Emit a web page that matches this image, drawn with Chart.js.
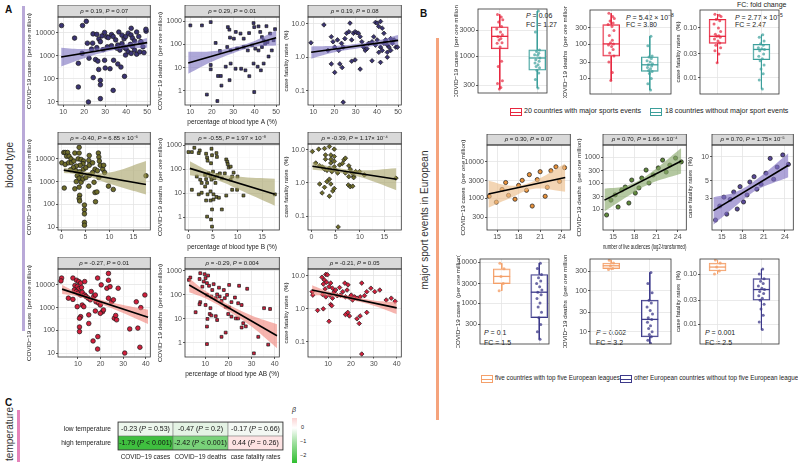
<!DOCTYPE html>
<html>
<head>
<meta charset="utf-8">
<script src="https://cdn.jsdelivr.net/npm/chart.js@4.4.0/dist/chart.umd.min.js"></script>
<style>
body{margin:0;background:#fff;width:798px;height:465px;position:relative;overflow:hidden;font-family:"Liberation Sans",Arial,sans-serif;}
canvas{position:absolute;}
.lbl{position:absolute;font-weight:bold;font-size:10px;color:#111;}
.vbar{position:absolute;width:3px;}
.rot{position:absolute;transform:translate(-50%,-50%) rotate(-90deg);white-space:nowrap;font-size:10px;color:#333;}
.txt{position:absolute;font-size:7px;color:#222;white-space:nowrap;}
.key{position:absolute;width:12px;height:8px;border:1px solid;box-sizing:border-box;}
.key:after{content:"";position:absolute;left:0;right:0;top:3px;border-top:1px solid;border-color:inherit;}
</style>
</head>
<body>
<div class="lbl" style="left:5px;top:4px">A</div>
<div class="lbl" style="left:420px;top:8px">B</div>
<div class="lbl" style="left:5px;top:397px">C</div>
<div class="vbar" style="left:22px;top:6px;height:325px;background:#b9a9d8"></div>
<div class="vbar" style="left:436px;top:38px;height:382px;background:#f5a37c"></div>
<div class="vbar" style="left:17px;top:410px;height:52px;background:#e584bb"></div>
<div class="rot" style="left:9px;top:165px">blood type</div>
<div class="rot" style="left:424px;top:220px">major sport events in European</div>
<div class="rot" style="left:9px;top:434px">temperature</div>

<div class="txt" style="left:526px;top:12px"><i>P</i> = 0.06</div>
<div class="txt" style="left:526px;top:21px">FC = 1.27</div>
<div class="txt" style="left:626px;top:12px"><i>P</i> = 5.42 × 10<sup style="font-size:5px">−8</sup></div>
<div class="txt" style="left:626px;top:21px">FC = 3.80</div>
<div class="txt" style="left:737px;top:1px">FC: fold change</div>
<div class="txt" style="left:735px;top:12px"><i>P</i> = 2.77 × 10<sup style="font-size:5px">−5</sup></div>
<div class="txt" style="left:735px;top:21px">FC = 2.47</div>

<div class="key" style="left:510px;top:108px;border-color:#e7263e"></div>
<div class="txt" style="left:524px;top:107px;font-size:7.1px">20 countries with major sports events</div>
<div class="key" style="left:650px;top:108px;border-color:#3c9f9b"></div>
<div class="txt" style="left:665px;top:107px;font-size:7.1px">18 countries without major sport events</div>

<div class="txt" style="left:484px;top:329px"><i>P</i> = 0.1</div>
<div class="txt" style="left:484px;top:339px">FC = 1.5</div>
<div class="txt" style="left:596px;top:329px"><i>P</i> = 0.002</div>
<div class="txt" style="left:596px;top:339px">FC = 3.2</div>
<div class="txt" style="left:705px;top:329px"><i>P</i> = 0.001</div>
<div class="txt" style="left:705px;top:339px">FC = 2.5</div>

<div class="key" style="left:481px;top:375px;border-color:#f4a06a"></div>
<div class="txt" style="left:495px;top:374px;font-size:6.3px">five countries with top five European leagues</div>
<div class="key" style="left:620px;top:375px;border-color:#3d3a8a"></div>
<div class="txt" style="left:634px;top:374px;font-size:6.3px">other European countries without top five European leagues</div>

<div class="txt" style="left:292px;top:406px;font-style:italic;font-size:7px">β</div>
<div style="position:absolute;left:292px;top:418px;width:5px;height:45px;background:linear-gradient(#fbd3d3 0%,#ffffff 22%,#9fdf9f 55%,#2fbf2f 100%)"></div>
<div class="txt" style="left:301px;top:424px;font-size:5.5px">0</div>
<div class="txt" style="left:300px;top:438px;font-size:5.5px">−1</div>
<div class="txt" style="left:300px;top:452px;font-size:5.5px">−2</div>

<script>
// ---------- data: blood type panels [x, y] ----------
const aCases = [[9.2,21000],[19.2,21000],[21,32000],[15.4,6000],[21.5,3600],[24,3600],[24.2,9100],[26,8700],[27,5500],[28.5,7500],[27.7,4200],[29.7,10500],[30.7,6800],[31.5,6300],[33,8500],[33.8,7000],[35,5000],[36.5,11000],[38,8000],[39,5600],[39.8,7000],[41,9800],[42.3,8200],[43,6000],[44,4500],[45,11000],[46,7000],[47,4000],[48,2500],[49.5,12000],[36,3000],[38,3500],[39,2400],[40,2000],[41,1500],[42,3200],[43,2600],[44,1800],[45,1200],[46.5,1500],[37,1800],[35.5,2200],[33,2800],[31,2500],[29,1900],[26,2300],[23.5,2000],[17.2,480],[19,1300],[22.3,800],[25.4,700],[26.5,600],[26.9,260],[27.7,87],[27.7,56],[29.7,650],[30,300],[32.3,280],[34,650],[36,450],[37.5,330],[33.8,32],[39.2,130],[24.3,115],[17.2,45],[22,10],[27.7,14],[39.7,1100],[42.4,1300],[48.5,1400],[42.4,16000],[49.4,14500],[47,4200]];
const aDeaths = [[10,650],[15.4,650],[19.5,900],[27.5,550],[28.2,425],[28.5,195],[30.3,175],[31.2,340],[33.4,290],[34.9,175],[37.4,305],[39.5,820],[39.8,550],[41.8,590],[42.6,340],[43.4,205],[44.2,148],[21.8,115],[23.8,52],[27.2,77],[28.8,55],[31.8,65],[34.9,77],[36.8,55],[38.8,91],[40.3,65],[41.8,55],[43.4,77],[44.9,107],[46,126],[19.5,13],[19.5,8.5],[22.9,4.4],[24.2,4.4],[24.5,1.7],[28.3,2.9],[26.5,11],[28.8,15],[31.1,9],[33.7,9],[35.7,7.7],[37.5,4.3],[39.5,15],[41.4,11],[42.9,7.7],[44.2,15],[39.8,0.9],[17.7,0.7],[22.6,0.37],[47.2,290],[48,55],[48.8,150],[49.5,450],[46.5,30],[45.5,600]];
const aCfr = [[8.9,2.7],[15,9.3],[16.9,1.6],[18.5,4.1],[19.3,2.9],[20.1,2.0],[21.4,3.3],[22,1.6],[23.3,2.6],[24.1,2.0],[24.9,3.6],[25.7,5.2],[26.8,5.8],[27.3,10.5],[28.1,3.3],[28.9,5.2],[29.7,5.8],[30.5,5.4],[31.3,5.2],[32.1,4.1],[32.9,2.9],[33.7,2.0],[34.5,1.6],[35.3,1.8],[36.1,2.6],[37.7,2.9],[38.5,4.1],[39.3,11],[40.1,10.5],[40.9,8.3],[41.7,11.8],[42.5,7.4],[43.3,5.2],[44.1,3.3],[44.9,2.3],[45.7,2.0],[46.5,1.6],[47.3,2.6],[48.1,3.3],[48.9,2.0],[49.7,2.0],[39.3,2.3],[40.9,1.4],[42.5,1.6],[18.5,0.63],[20.1,0.35],[22.5,0.63],[23.6,0.49],[28.1,0.76],[29.7,0.83],[32.1,0.44],[37.7,0.78],[41.7,0.7],[44.9,1.0],[24.1,0.045],[40.1,3.3],[41.7,2.0],[43.3,2.6],[44.9,1.4],[46.5,3.6]];

const bCases = [[0.5,19000],[0.8,19000],[1.3,19000],[1.1,13000],[1.6,13000],[2,10000],[0.1,6700],[0.8,5700],[1.5,6700],[2.1,6700],[2.6,8000],[2.8,18000],[3.7,32000],[3.7,18000],[3.5,10000],[4.1,9400],[4.6,8000],[4.5,6100],[3.9,5200],[3.1,4800],[2.5,4100],[1.9,3300],[3,3000],[3.8,2700],[4.6,3500],[5.1,4100],[5.8,14000],[5.7,8500],[5.8,5200],[6.5,6700],[7,3500],[7.7,18000],[7.8,12000],[7.9,8000],[8.1,5200],[8.6,3500],[9,2500],[8.8,5200],[7.5,3000],[6.5,2500],[4.1,2100],[3.3,1800],[3.7,1400],[3.1,1000],[4.1,930],[4.5,1300],[5.1,1500],[5.9,1900],[6.8,930],[7.8,1500],[0.6,520],[2.8,480],[3.7,570],[3.8,250],[3.7,180],[3.8,140],[5.7,630],[7,330],[7.1,130],[7.4,350],[9.8,630],[10.8,450],[4.8,93],[4.8,58],[4.8,38],[4.8,16],[4.8,12],[17.6,1800]];
const bDeaths = [[0,530],[0.7,530],[1.2,800],[2.1,480],[2.3,620],[3.6,450],[3.8,310],[3.9,230],[4.7,730],[4.8,390],[4.6,180],[5.7,480],[5.8,330],[7.7,260],[7.9,210],[8,165],[8.2,120],[8.6,130],[9.2,73],[1.7,50],[2.4,37],[2.7,27],[3.4,58],[3.6,39],[3.8,27],[4.1,68],[4.5,50],[4.7,37],[5,80],[5.3,42],[5.5,27],[5.9,58],[6.4,68],[6.8,42],[7.4,68],[8.6,37],[8.9,50],[10,50],[0.7,14],[2.1,9],[2.7,10.5],[3.4,19],[3.9,9],[4.5,12],[5.1,9],[3.6,5],[4.5,5],[5.1,5.5],[5.7,7],[6.2,6.5],[7.7,8],[8.9,14],[9.9,14],[11.2,8],[4.8,2.1],[6.8,2.1],[3.8,1.05],[4.8,0.4],[4.6,0.8],[17.6,9]];
const bCfr = [[0.2,8.9],[1.5,10.5],[2.7,11],[3.7,12.6],[4.7,10.5],[2.9,7],[2.9,5.2],[4,7],[4,5.2],[4,4],[4.7,6.3],[4.7,4.5],[4.7,3.1],[0.9,4],[1.7,3.3],[2.3,3],[2.7,2.6],[3.2,2.4],[3.7,2.8],[4.2,2.2],[4.9,2.5],[5.4,2],[5.8,3.5],[6.4,3.9],[6.7,5],[7,5.6],[7.7,3.3],[8,2.6],[8.4,2],[8.7,1.6],[9.1,2.2],[7,2],[7.7,1.55],[9.9,2.2],[10.9,1.75],[1.7,0.93],[2.2,0.5],[2.7,0.74],[3.2,1.1],[3.7,1.3],[4,0.93],[4.4,0.57],[4.7,0.68],[3.7,0.4],[7.6,0.87],[8,0.77],[8.5,0.8],[8.7,1.45],[5.5,0.047],[17.4,1.4]];

const abCases = [[2.8,20000],[2.5,15000],[7.8,20000],[9.4,16000],[10.4,14000],[11.2,12000],[8.7,9400],[9.7,8500],[10.4,6700],[11.6,7600],[8.4,6000],[9.3,5100],[10.1,4300],[11.2,3600],[11.9,4700],[13,3600],[13.6,3100],[14.5,2600],[15.5,2200],[15.9,5100],[13,14000],[17,3100],[17.7,3600],[18,1800],[18.7,20000],[19.1,1600],[20.3,10000],[19.9,1300],[20.9,660],[22.8,7100],[23.5,16000],[23.5,32000],[24.2,8400],[23.5,2600],[24.9,1800],[25.7,2200],[27.8,7100],[26.1,340],[26.7,450],[27.1,290],[19.9,560],[21.3,790],[17.7,710],[5.8,2600],[7.8,2300],[9.7,1100],[11.9,1300],[12.6,1100],[11.2,400],[10.7,340],[14.8,480],[14.8,200],[10.7,140],[10.7,88],[16.7,34],[18.7,15],[18.8,53],[32.9,115],[30.7,10],[35.8,1800],[37.8,1000],[39.6,3600],[36.5,125],[37.4,18]];
const abDeaths = [[2.9,420],[3.5,530],[7.8,800],[9.7,730],[10.1,500],[11.2,640],[7.5,460],[9.3,360],[10.7,310],[8.7,220],[11.6,240],[13,160],[13.6,280],[15.9,200],[18,160],[20.3,260],[24.6,240],[28.1,180],[10.7,100],[12.6,85],[14.5,73],[15.1,105],[16.2,85],[17,56],[18.4,73],[19.4,100],[21.3,50],[22.8,78],[24.2,45],[25.7,38],[18.8,32],[20.3,30],[7.8,50],[7.5,41],[10.1,38],[12.2,28],[5.8,19],[11.9,16],[12.6,14],[14.5,13],[19.9,16],[21.3,12.5],[23.2,10.5],[24.2,10.5],[10.9,10],[15.1,9],[26.4,6.6],[27.5,4.9],[25.7,4.4],[10.7,4.8],[17,1.8],[18.8,2.7],[10.7,0.9],[31,0.37],[32.9,1.8],[35.4,28],[37.2,0.85],[38,26]];
const abCfr = [[3,3.3],[3.3,2.6],[7.3,9],[9,11],[9.7,10.7],[8.3,7.5],[9.3,6.4],[7.9,5.6],[10.4,4.7],[11.1,6],[11.9,4.2],[8.7,4],[7.6,2.7],[9,2.3],[10.7,2.6],[11.9,2.1],[12.6,3.2],[13.3,3.7],[14,2.5],[15,4.4],[15.4,2.6],[16.4,3.3],[17.3,6],[17.6,2.3],[18.3,3.7],[18.7,5.3],[19.3,2.2],[20.1,2.6],[20.7,1.85],[21.6,2.3],[22.6,2.1],[24,2.3],[24.7,6],[25.9,2.5],[26.9,3.3],[28.7,4.2],[30.4,3.3],[32.6,3.7],[35.4,1.85],[37.6,2.1],[39.3,1.7],[5.4,0.9],[7.9,1.0],[10.4,0.42],[11.1,1.35],[11.6,1.25],[17.6,0.67],[18.6,0.78],[19.3,0.61],[22.6,0.5],[23.6,0.36],[24,0.61],[26.9,0.78],[24.7,0.043]];

// fitted lines and 95% bands
const aCasesFit = [[9,900],[50,3800]], aCasesBandX = [9,20,30,40,50], aCasesHi = [2300,2000,2400,3300,6000], aCasesLo = [350,800,1500,2100,2300];
const aDeathsFit = [[9,16],[50,190]], aDeathsBandX = [9,20,30,40,50], aDeathsHi = [48,50,75,140,400], aDeathsLo = [5.5,18,42,78,90];
const aCfrFit = [[9,1.4],[50,3.2]], aCfrBandX = [9,20,30,40,50], aCfrHi = [2.1,2.2,2.5,3.1,4.6], aCfrLo = [0.9,1.4,1.8,2.2,2.3];
const bCasesFit = [[0.5,3200],[17.6,740]], bCasesBandX = [0.5,5,10,17.6], bCasesHi = [4200,2700,2500,8000], bCasesLo = [2400,1800,800,270];
const bDeathsFit = [[0.3,110],[17.6,9]], bDeathsBandX = [0.3,5,10,17.6], bDeathsHi = [220,75,50,40], bDeathsLo = [56,40,15,3];
const bCfrFit = [[0.2,3.2],[17.5,1.3]], bCfrBandX = [0.2,5,10,17.5], bCfrHi = [4.2,2.9,2.4,2.8], bCfrLo = [2.5,2.1,1.5,0.6];
const abCasesFit = [[3,6500],[41,380]], abCasesBandX = [3,10,20,30,41], abCasesHi = [10000,4600,2200,1300,800], abCasesLo = [4000,3100,1450,580,190];
const abDeathsFit = [[3,260],[41,2]], abDeathsBandX = [3,10,20,30,41], abDeathsHi = [500,150,40,14,6], abDeathsLo = [130,72,21,4.8,0.6];
const abCfrFit = [[3,3.7],[40,1.07]], abCfrBandX = [3,10,20,30,40], abCfrHi = [5.2,3.4,2.4,1.8,1.6], abCfrLo = [2.6,2.5,1.85,1.25,0.7];

const stripA = ['ρ = 0.19, P = 0.07', 'ρ = 0.29, P = 0.01', 'ρ = 0.19, P = 0.08'];
const stripB = ['ρ = -0.40, P = 6.85 × 10⁻⁵', 'ρ = -0.55, P = 1.97 × 10⁻⁸', 'ρ = -0.39, P = 1.17× 10⁻⁴'];
const stripAB = ['ρ = -0.27, P = 0.01', 'ρ = -0.29, P = 0.004', 'ρ = -0.21, P = 0.05'];

// ---------- data: sport events ----------
const audCases = [[13.9,1130],[14.9,780],[15.7,1740],[16.2,2700],[16.6,1200],[17.5,940],[18,2250],[18.5,3100],[19.1,1650],[19.5,4450],[19.9,610],[20.6,3250],[21,5350],[21.7,1130],[22.5,5700],[23.2,7300],[23.7,2900],[24.4,6900],[22,2000]];
const audDeaths = [[14.1,5.9],[14.7,22],[15.3,35],[15.7,12],[16.2,54],[16.7,70],[17.2,17],[17.6,130],[18.1,41],[18.6,65],[19,155],[19.6,316],[20,100],[20.6,205],[21.3,380],[21.9,760],[22.4,265],[22.9,490],[23.7,910],[24.5,650]];
const audCfr = [[14.1,1.6],[14.7,2.4],[15.3,3.1],[15.7,1.9],[16.2,2.9],[16.7,3.6],[17.2,2.2],[17.6,4.2],[18.1,2.7],[18.6,3.3],[19,4.8],[19.6,5.6],[20,3.9],[20.6,4.5],[21.3,6.2],[21.9,9.5],[22.4,5.2],[22.9,7.4],[23.7,10.5],[24.5,8]];
const audCasesFit = [[13.8,1300],[24.5,3700]], audBandX = [13.8,17,20,24.5], audCasesHi = [3000,2200,2900,9000], audCasesLo = [550,1050,1800,1500];
const audDeathsFit = [[13.8,22],[24.5,700]], audDeathsHi = [60,80,220,2200], audDeathsLo = [8,30,90,230];
const audCfrFit = [[13.8,2.1],[24.5,7.8]], audCfrHi = [3.1,3.6,5.2,11], audCfrLo = [1.4,2.4,3.8,5.5];
const stripAud = ['ρ = 0.30, P = 0.07', 'ρ = 0.70, P = 1.66 × 10⁻⁴', 'ρ = 0.70, P = 1.75× 10⁻⁵'];

// box plots: [min, q1, median, q3, max] and points
const evCases = {yes: [260,1380,2340,3500,5900], no: [265,560,940,1320,6800]};
const evCasesPts = {yes: [5900,5300,4700,4300,3550,3200,2800,2500,2300,2130,2000,1780,1740,1500,820,660,360,320,270,255], no: [6800,2800,1320,1230,1150,1080,1050,940,870,820,760,710,660,620,560,500,380,265]};
const evDeaths = {yes: [8.7,45,102,375,800], no: [4.6,16,25,43,170]};
const evDeathsPts = {yes: [800,650,560,480,420,375,330,250,180,130,110,102,95,85,70,55,45,30,15,8.7], no: [170,90,45,42,38,33,30,27,25,23,21,19,17,16,14,10,7,4.6]};
const evCfr = {yes: [0.020,0.049,0.068,0.15,0.19], no: [0.0059,0.023,0.037,0.047,0.073]};
const evCfrPts = {yes: [0.19,0.18,0.17,0.15,0.14,0.12,0.1,0.085,0.075,0.07,0.068,0.065,0.06,0.055,0.05,0.045,0.04,0.035,0.03,0.02], no: [0.073,0.065,0.055,0.048,0.045,0.04,0.038,0.037,0.035,0.03,0.027,0.024,0.022,0.018,0.015,0.012,0.009,0.0059]};
const jitYes = [-0.06,0.04,0.08,-0.03,0.05,-0.08,0.02,0.07,-0.05,0.03,-0.02,0.06,-0.07,0.01,0.05,-0.04,0.07,-0.06,0.03,-0.01];
const jitNo = [0.03,-0.05,0.06,-0.02,0.04,-0.07,0.01,0.07,-0.04,0.05,-0.06,0.02,-0.03,0.06,-0.01,0.04,-0.05,0.02];

const lgCases = {top: [2000,3000,4500,6900,9500], other: [130,440,1850,5000,9500]};
const lgCasesPts = {top: [9500,6900,4500,3000,2000], other: [9500,7000,5000,4200,3500,3000,2500,2100,1850,1600,1300,1000,800,600,440,300,200,130]};
const lgDeaths = {top: [330,350,410,480,560], other: [5.2,7.5,20,59,280]};
const lgDeathsPts = {top: [560,480,410,350,330], other: [280,150,90,59,50,40,33,27,22,20,17,14,12,10,8.5,7.5,6.2,5.2]};
const lgCfr = {top: [0.1,0.115,0.138,0.166,0.19], other: [0.0078,0.030,0.049,0.081,0.126]};
const lgCfrPts = {top: [0.19,0.166,0.138,0.115,0.1], other: [0.126,0.1,0.081,0.072,0.065,0.058,0.052,0.049,0.045,0.041,0.037,0.033,0.03,0.025,0.02,0.015,0.011,0.0078]};
const jitTop = [-0.05,0.06,-0.02,0.04,-0.07];

// ---------- data: temperature heatmap ----------
const heatRows = ['low temperature', 'high temperature'];
const heatCols = ['COVID−19 cases', 'COVID−19 deaths', 'case fatality rates'];
const heatBeta = [[-0.23, -0.47, -0.17], [-1.79, -2.42, 0.44]];
const heatP = [['= 0.53', '= 0.2', '= 0.66'], ['< 0.001', '< 0.001', '= 0.26']];
const heatColors = [['#ecf6ec', '#e4f3e4', '#f3f8f3'], ['#3fbf3f', '#79d279', '#fde3e3']];

// ---------- helpers ----------
const FONT = '"Liberation Sans", Arial, sans-serif';
Chart.defaults.font.family = FONT;
Chart.defaults.color = '#4d4d4d';

function mk(l, t, w, h) {
  const c = document.createElement('canvas');
  c.width = w; c.height = h;
  c.style.left = l + 'px'; c.style.top = t + 'px';
  document.body.appendChild(c);
  return c;
}

function rich(ctx, str, cx, cy, size, color) {
  const parts = [];
  for (const ch of str) {
    const it = ch === 'P' || ch === 'ρ';
    const last = parts[parts.length - 1];
    if (last && last.it === it) last.t += ch; else parts.push({t: ch, it: it});
  }
  let total = 0;
  parts.forEach(p => {
    ctx.font = (p.it ? 'italic ' : '') + size + 'px ' + FONT;
    p.w = ctx.measureText(p.t).width; total += p.w;
  });
  let x = cx - total / 2;
  ctx.fillStyle = color; ctx.textBaseline = 'middle'; ctx.textAlign = 'left';
  parts.forEach(p => {
    ctx.font = (p.it ? 'italic ' : '') + size + 'px ' + FONT;
    ctx.fillText(p.t, x, cy); x += p.w;
  });
}

// strip header, panel border, cell labels
Chart.register({
  id: 'panel',
  afterDraw(chart, args, opts) {
    const {ctx, chartArea: a} = chart;
    ctx.save();
    if (opts.strip) {
      ctx.fillStyle = '#d9d9d9';
      ctx.fillRect(a.left, a.top - opts.h, a.right - a.left, opts.h);
      ctx.strokeStyle = '#333'; ctx.lineWidth = 0.8;
      ctx.strokeRect(a.left, a.top - opts.h, a.right - a.left, opts.h);
      rich(ctx, opts.strip, (a.left + a.right) / 2, a.top - opts.h / 2, 6, '#1a1a1a');
    }
    if (opts.border) {
      ctx.strokeStyle = '#333'; ctx.lineWidth = 0.8;
      ctx.strokeRect(a.left, a.top, a.right - a.left, a.bottom - a.top);
    }
    if (opts.cells) {
      chart.data.datasets.forEach((ds, di) => {
        chart.getDatasetMeta(di).data.forEach((bar, i) => {
          rich(ctx, opts.cells[di][i], bar.x, (bar.y + bar.base) / 2, 7, '#111');
        });
      });
    }
    ctx.restore();
  }
});

function tickSetter(major, minor) {
  return s => {
    s.ticks = major.map(v => ({value: v}))
      .concat((minor || []).map(v => ({value: v, minor: true})))
      .sort((p, q) => p.value - q.value);
  };
}

function axis(type, min, max, major, labels, minor) {
  return {
    type: type, min: min, max: max, bounds: 'data', offset: false,
    afterBuildTicks: tickSetter(major, minor),
    ticks: {
      autoSkip: false, maxRotation: 0, padding: 1, color: '#4d4d4d',
      font: {size: 7},
      callback: (v, i, ts) => {
        const k = major.indexOf(v);
        return k < 0 ? '' : (labels ? labels[k] : String(v));
      }
    },
    grid: {
      offset: false,
      color: c => c.tick && c.tick.minor ? '#f2f2f2' : '#e4e4e4',
      lineWidth: c => c.tick && c.tick.minor ? 0.5 : 0.8,
      tickLength: 2,
      tickColor: c => c.tick && c.tick.minor ? 'rgba(0,0,0,0)' : '#333'
    },
    border: {display: false}
  };
}

function scatterPanel(o) {
  const W = o.axisW + o.w + 3, H = o.strip + o.h + o.axisH;
  const cv = mk(o.l - o.axisW, o.t - o.strip, W, H);
  const xy = p => ({x: p[0], y: p[1]});
  const x = axis('linear', o.x[0], o.x[1], o.xt, null, o.xm);
  x.afterFit = s => { s.height = o.axisH; s.paddingLeft = 0; s.paddingRight = 0; };
  x.title = {display: !!o.xTitle, text: o.xTitle || '', font: {size: 6.5}, color: '#222', padding: {top: 0, bottom: 0}};
  const y = axis('logarithmic', o.y[0], o.y[1], o.yt, o.yl, o.ym);
  y.afterFit = s => { s.width = o.axisW; s.paddingTop = 0; s.paddingBottom = 0; };
  y.title = {display: true, text: o.yTitle, font: {size: 6.2}, color: '#222', padding: {top: 0, bottom: 1}};
  new Chart(cv, {
    type: 'scatter',
    data: {datasets: [
      {type: 'line', data: o.fit.map(xy), borderColor: '#000', borderWidth: 1.6, pointRadius: 0, fill: false},
      {type: 'line', data: o.bandX.map((v, i) => ({x: v, y: o.hi[i]})), borderColor: 'rgba(0,0,0,0)', pointRadius: 0, fill: '+1', backgroundColor: o.band, tension: 0.4},
      {type: 'line', data: o.bandX.map((v, i) => ({x: v, y: o.lo[i]})), borderColor: 'rgba(0,0,0,0)', pointRadius: 0, fill: false, tension: 0.4},
      {data: o.pts.map(xy), pointStyle: o.shape, pointRadius: o.r || 2.1, backgroundColor: o.color, borderColor: '#1a1a1a', borderWidth: 0.7}
    ]},
    options: {
      responsive: false, animation: false,
      layout: {padding: {top: o.strip, right: 3, left: 0, bottom: 0}},
      plugins: {legend: {display: false}, tooltip: {enabled: false}, panel: {strip: o.title, h: o.strip, border: true}},
      scales: {x: x, y: y}
    }
  });
}

function boxPanel(o) {
  const W = o.axisW + o.w + 3, H = o.h + 6;
  const cv = mk(o.l - o.axisW, o.t - 3, W, H);
  const x = axis('linear', o.x[0], o.x[1], [1, 2], ['', ''], null);
  x.ticks.display = false;
  x.grid.tickLength = 0;
  x.afterFit = s => { s.height = 3; s.paddingLeft = 0; s.paddingRight = 0; };
  const y = axis('logarithmic', o.y[0], o.y[1], o.yt, o.yl, o.ym);
  y.afterFit = s => { s.width = o.axisW; s.paddingTop = 0; s.paddingBottom = 0; };
  y.title = {display: true, text: o.yTitle, font: {size: 6.2}, color: '#222', padding: {top: 0, bottom: 1}};
  const half = o.bw / 2 / (o.w / (o.x[1] - o.x[0]));
  const ds = [];
  o.groups.forEach((g, gi) => {
    const md = g.stats[2];
    ds.push({type: 'line', data: [{x: gi + 1 - half, y: md}, {x: gi + 1 + half, y: md}], borderColor: g.color, borderWidth: 1.3, pointRadius: 0});
    ds.push({type: 'scatter', data: g.pts.map((v, i) => ({x: gi + 1 + g.jit[i % g.jit.length], y: v})), pointRadius: 1.5, backgroundColor: g.pointColor, borderWidth: 0});
  });
  ds.push({type: 'bar', data: o.groups.map((g, gi) => ({x: gi + 1, y: [g.stats[1], g.stats[3]]})),
    backgroundColor: 'rgba(255,255,255,0.5)', borderColor: o.groups.map(g => g.color), borderWidth: 1, borderSkipped: false, barThickness: o.bw, grouped: false});
  o.groups.forEach((g, gi) => {
    const [mn, q1, md, q3, mx] = g.stats;
    ds.push({type: 'line', data: [{x: gi + 1, y: mx}, {x: gi + 1, y: q3}, {x: gi + 1, y: null}, {x: gi + 1, y: q1}, {x: gi + 1, y: mn}],
      borderColor: g.color, borderWidth: 1, pointRadius: 0, spanGaps: false});
  });
  new Chart(cv, {
    type: 'scatter',
    data: {datasets: ds},
    options: {
      responsive: false, animation: false,
      layout: {padding: {top: 3, right: 3, left: 0, bottom: 0}},
      plugins: {legend: {display: false}, tooltip: {enabled: false}, panel: {border: true}},
      scales: {x: x, y: y}
    }
  });
}

// ---------- panel A ----------
const colA = [{l: 58, w: 94, axisW: 32}, {l: 185, w: 96, axisW: 28}, {l: 308, w: 95, axisW: 25}];
const yTitles = ['COVID−19 cases  (per one million)', 'COVID−19 deaths  (per one million)', 'case fatality rates  (%)'];
const rowsA = [
  {t: 17, h: 88, x: [7.5, 51.5], xt: [10, 20, 30, 40, 50], xm: [15, 25, 35, 45], xTitle: 'percentage of blood type A (%)',
   color: '#3b3473', band: 'rgba(120,110,190,0.6)', strips: stripA,
   sets: [
     {pts: aCases, fit: aCasesFit, bandX: aCasesBandX, hi: aCasesHi, lo: aCasesLo, y: [7.4, 49500], yt: [10, 100, 1000, 10000], yl: ['10', '100', '1000', '10000'], ym: [31.6, 316, 3162, 31623]},
     {pts: aDeaths, fit: aDeathsFit, bandX: aDeathsBandX, hi: aDeathsHi, lo: aDeathsLo, y: [0.25, 1490], yt: [1, 10, 100, 1000], yl: ['1', '10', '100', '1000'], ym: [0.316, 3.16, 31.6, 316]},
     {pts: aCfr, fit: aCfrFit, bandX: aCfrBandX, hi: aCfrHi, lo: aCfrLo, y: [0.037, 16], yt: [0.1, 1, 10], yl: ['0.1', '1.0', '10.0'], ym: [0.0316, 0.316, 3.16]}
   ]},
  {t: 144, h: 86, x: [-0.7, 18.5], xt: [0, 5, 10, 15], xm: [2.5, 7.5, 12.5, 17.5], xTitle: 'percentage of blood type B (%)',
   color: '#6e6c2a', band: 'rgba(165,160,100,0.6)', strips: stripB,
   sets: [
     {pts: bCases, fit: bCasesFit, bandX: bCasesBandX, hi: bCasesHi, lo: bCasesLo, y: [7.4, 45000], yt: [10, 100, 1000, 10000], yl: ['10', '100', '1000', '10000'], ym: [31.6, 316, 3162, 31623]},
     {pts: bDeaths, fit: bDeathsFit, bandX: bDeathsBandX, hi: bDeathsHi, lo: bDeathsLo, y: [0.29, 1150], yt: [1, 10, 100, 1000], yl: ['1', '10', '100', '1000'], ym: [0.316, 3.16, 31.6, 316]},
     {pts: bCfr, fit: bCfrFit, bandX: bCfrBandX, hi: bCfrHi, lo: bCfrLo, y: [0.038, 15], yt: [0.1, 1, 10], yl: ['0.1', '1.0', '10.0'], ym: [0.0316, 0.316, 3.16]}
   ]},
  {t: 269, h: 88, x: [1.2, 42], xt: [10, 20, 30, 40], xm: [5, 15, 25, 35], xTitle: 'percentage of blood type AB (%)',
   color: '#d21f3c', band: 'rgba(240,130,120,0.6)', strips: stripAB,
   sets: [
     {pts: abCases, fit: abCasesFit, bandX: abCasesBandX, hi: abCasesHi, lo: abCasesLo, y: [6.7, 50000], yt: [10, 100, 1000, 10000], yl: ['10', '100', '1000', '10000'], ym: [31.6, 316, 3162, 31623]},
     {pts: abDeaths, fit: abDeathsFit, bandX: abDeathsBandX, hi: abDeathsHi, lo: abDeathsLo, y: [0.26, 1200], yt: [1, 10, 100, 1000], yl: ['1', '10', '100', '1000'], ym: [0.316, 3.16, 31.6, 316]},
     {pts: abCfr, fit: abCfrFit, bandX: abCfrBandX, hi: abCfrHi, lo: abCfrLo, y: [0.035, 16], yt: [0.1, 1, 10], yl: ['0.1', '1.0', '10.0'], ym: [0.0316, 0.316, 3.16]}
   ]}
];
const shapes = ['circle', 'rect', 'rectRot'];
rowsA.forEach(r => {
  r.sets.forEach((s, ci) => {
    scatterPanel(Object.assign({}, s, {
      l: colA[ci].l, w: colA[ci].w, axisW: colA[ci].axisW, t: r.t, h: r.h, strip: 12, axisH: 21,
      x: r.x, xt: r.xt, xm: r.xm, xTitle: ci === 1 ? r.xTitle : '', yTitle: yTitles[ci],
      title: r.strips[ci], color: r.color, band: r.band, shape: shapes[ci], r: ci === 1 ? 2.0 : 2.3
    }));
  });
});

// ---------- panel B: box plots (events) ----------
const red = '#e7263e', teal = '#3c9f9b';
const evSets = [
  {l: 478, t: 8, w: 70, axisW: 25, x: [0.42, 2.26], stats: evCases, pts: evCasesPts, y: [215, 7400], yt: [300, 1000, 3000], yl: ['300', '1000', '3000'], ym: []},
  {l: 590, t: 9, w: 82, axisW: 28, x: [0.45, 2.55], stats: evDeaths, pts: evDeathsPts, y: [3.5, 1000], yt: [10, 30, 100, 300], yl: ['10', '30', '100', '300'], ym: []},
  {l: 700, t: 9, w: 80, axisW: 25, x: [0.6, 2.4], stats: evCfr, pts: evCfrPts, y: [0.0047, 0.23], yt: [0.01, 0.03, 0.1], yl: ['0.01', '0.03', '0.10'], ym: []}
];
evSets.forEach((s, ci) => {
  boxPanel({l: s.l, t: s.t, w: s.w, h: 86, axisW: s.axisW, x: s.x, y: s.y, yt: s.yt, yl: s.yl, ym: s.ym, bw: 17, yTitle: yTitles[ci],
    groups: [
      {stats: s.stats.yes, pts: s.pts.yes, jit: jitYes, color: red, pointColor: 'rgba(231,38,62,0.7)'},
      {stats: s.stats.no, pts: s.pts.no, jit: jitNo, color: teal, pointColor: 'rgba(60,159,155,0.7)'}
    ]});
});

// ---------- panel B: scatter (audiences) ----------
const audSets = [
  {l: 487, w: 85, axisW: 27, pts: audCases, fit: audCasesFit, hi: audCasesHi, lo: audCasesLo, y: [134, 29000], yt: [300, 1000, 3000, 10000], yl: ['300', '1000', '3000', '10000'],
   color: '#e8913a', band: 'rgba(236,190,140,0.65)'},
  {l: 603, w: 85, axisW: 27, pts: audDeaths, fit: audDeathsFit, hi: audDeathsHi, lo: audDeathsLo, y: [1.56, 2900], yt: [10, 30, 100, 300, 1000], yl: ['10', '30', '100', '300', '1000'],
   color: '#5f8a3a', band: 'rgba(140,170,110,0.65)'},
  {l: 712, w: 83, axisW: 25, pts: audCfr, fit: audCfrFit, hi: audCfrHi, lo: audCfrLo, y: [1.2, 14], yt: [3, 5, 10], yl: ['3', '5', '10'],
   color: '#5a4a9a', band: 'rgba(130,115,195,0.65)'}
];
audSets.forEach((s, ci) => {
  scatterPanel(Object.assign({}, s, {
    t: 145, h: 85, strip: 11, axisH: 21, x: [13.6, 25.2], xt: [15, 18, 21, 24], xm: [],
    xTitle: ci === 1 ? 'number of live audiences (log2-transformed)' : '', yTitle: yTitles[ci],
    bandX: audBandX, ym: [], title: stripAud[ci], shape: 'circle', r: 2.1
  }));
});

// ---------- panel B: box plots (leagues) ----------
const orange = '#f4a06a', navy = '#3d3a8a';
const lgSets = [
  {l: 480, w: 70, axisW: 25, x: [0.42, 2.26], stats: lgCases, pts: lgCasesPts, y: [100, 12000], yt: [300, 1000, 3000, 10000], yl: ['300', '1000', '3000', '10000']},
  {l: 590, w: 82, axisW: 28, x: [0.45, 2.55], stats: lgDeaths, pts: lgDeathsPts, y: [5, 600], yt: [10, 30, 100, 300], yl: ['10', '30', '100', '300']},
  {l: 700, w: 80, axisW: 25, x: [0.6, 2.4], stats: lgCfr, pts: lgCfrPts, y: [0.004, 0.2], yt: [0.01, 0.03, 0.1], yl: ['0.01', '0.03', '0.10']}
];
lgSets.forEach((s, ci) => {
  boxPanel({l: s.l, t: 258, w: s.w, h: 87, axisW: s.axisW, x: s.x, y: s.y, yt: s.yt, yl: s.yl, ym: [], bw: 17, yTitle: yTitles[ci],
    groups: [
      {stats: s.stats.top, pts: s.pts.top, jit: jitTop, color: orange, pointColor: 'rgba(244,160,106,0.8)'},
      {stats: s.stats.other, pts: s.pts.other, jit: jitNo, color: navy, pointColor: 'rgba(61,58,138,0.75)'}
    ]});
});

// ---------- panel C: heatmap ----------
(function () {
  const cv = mk(20, 418, 271, 47);
  const cellText = heatBeta.map((row, ri) => row.map((b, ci) => b.toFixed(2) + ' (P ' + heatP[ri][ci] + ')'));
  const cell = {borderColor: '#666', borderWidth: 0.6, borderSkipped: false, barPercentage: 1, categoryPercentage: 1};
  new Chart(cv, {
    type: 'bar',
    data: {
      labels: heatCols,
      datasets: [
        Object.assign({data: heatCols.map(() => 1), backgroundColor: heatColors[1]}, cell),
        Object.assign({data: heatCols.map(() => 1), backgroundColor: heatColors[0]}, cell)
      ]
    },
    options: {
      responsive: false, animation: false,
      layout: {padding: {top: 4, right: 8, left: 0, bottom: 0}},
      plugins: {legend: {display: false}, tooltip: {enabled: false}, panel: {border: true, cells: [cellText[1], cellText[0]]}},
      scales: {
        x: {stacked: true, grid: {display: false, drawTicks: false}, border: {display: false},
            ticks: {font: {size: 6.4}, color: '#222', padding: 3, autoSkip: false, maxRotation: 0},
            afterFit: s => { s.height = 15; s.paddingLeft = 0; s.paddingRight = 0; }},
        y: {stacked: true, min: 0, max: 2, grid: {display: false, drawTicks: false}, border: {display: false},
            afterBuildTicks: s => { s.ticks = [{value: 0.5}, {value: 1.5}]; },
            ticks: {font: {size: 6.6}, color: '#222', padding: 7, callback: v => v < 1 ? heatRows[1] : heatRows[0]},
            afterFit: s => { s.width = 98; s.paddingTop = 0; s.paddingBottom = 0; }}
      }
    }
  });
})();
</script>
</body>
</html>
